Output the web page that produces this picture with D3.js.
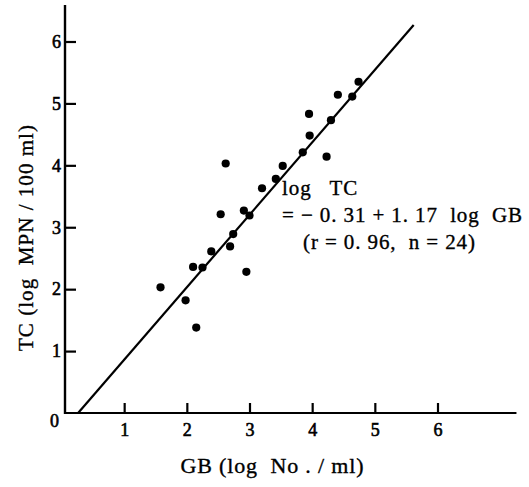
<!DOCTYPE html>
<html>
<head>
<meta charset="utf-8">
<script src="https://cdn.jsdelivr.net/npm/d3@7"></script>
<style>
  html, body { margin: 0; padding: 0; background: #fff; }
</style>
</head>
<body>
<div id="chart"></div>
<script>
// GB (log No./ml) and TC (log MPN/100 ml) for each sample
const gbValues = [1.58, 1.98, 2.15, 2.10, 2.25, 2.39, 2.69, 2.74, 2.54, 2.62, 2.91, 3.00,
                  2.95, 3.20, 3.42, 3.53, 3.85, 4.23, 3.96, 3.95, 4.30, 4.41, 4.64, 4.74];
const tcValues = [2.03, 1.82, 1.38, 2.36, 2.35, 2.61, 2.69, 2.89, 3.21, 4.03, 3.27, 3.19,
                  2.28, 3.63, 3.78, 3.99, 4.21, 4.14, 4.48, 4.83, 4.73, 5.14, 5.11, 5.35];
const xTicks = [1, 2, 3, 4, 5, 6];
const yTicks = [1, 2, 3, 4, 5, 6];
const intercept = -0.31, slope = 1.17;
const lineEndGB = 5.62;
const eqLines = ["log   TC", "= − 0. 31 + 1. 17  log  GB", "(r = 0. 96,  n = 24)"];

const width = 529, height = 487;
const serif = "'Liberation Serif'";

const svg = d3.select("#chart").append("svg")
    .attr("width", width)
    .attr("height", height);

const x = d3.scaleLinear().domain([0, 6]).range([61.5, 437.5]);
const y = d3.scaleLinear().domain([0, 6]).range([413, 41.5]);

const axisX = 65; // where the vertical axis was printed

function styleText(sel, size) {
  sel.style("font-family", serif)
     .style("font-size", size + "px")
     .style("fill", "#000")
     .style("stroke", "#000")
     .style("stroke-width", 0.35);
}

// y axis, ticks pointing into the plot
const gy = svg.append("g")
    .attr("transform", `translate(${axisX},0)`)
    .call(d3.axisLeft(y).tickValues(yTicks).tickSize(-11).tickPadding(4).tickFormat(d3.format("d")));
gy.select(".domain").remove();
gy.selectAll(".tick line").attr("stroke", "#000").attr("stroke-width", 2.2);
gy.selectAll(".tick text").call(styleText, 18).style("stroke-width", 0.6);

// x axis, ticks pointing up
const gx = svg.append("g")
    .attr("transform", `translate(0,${y(0)})`)
    .call(d3.axisBottom(x).tickValues(xTicks).tickSize(-10).tickPadding(10).tickFormat(d3.format("d")));
gx.select(".domain").remove();
gx.selectAll(".tick line").attr("stroke", "#000").attr("stroke-width", 2.2);
gx.selectAll(".tick text").call(styleText, 18).style("stroke-width", 0.6);

// axis lines
svg.append("line")
    .attr("x1", axisX).attr("x2", axisX)
    .attr("y1", y(6.59)).attr("y2", y(0) + 1)
    .attr("stroke", "#000").attr("stroke-width", 2.4);
svg.append("line")
    .attr("x1", axisX - 1).attr("x2", x(7.26))
    .attr("y1", y(0)).attr("y2", y(0))
    .attr("stroke", "#000").attr("stroke-width", 2.2);

// origin label
svg.append("text")
    .attr("x", axisX - 6).attr("y", y(0) + 8)
    .attr("dy", "0.32em")
    .attr("text-anchor", "end")
    .text("0")
    .call(styleText, 18)
    .style("stroke-width", 0.6);

// regression line
const x0 = -intercept / slope;
svg.append("line")
    .attr("x1", x(x0)).attr("y1", y(0))
    .attr("x2", x(lineEndGB)).attr("y2", y(intercept + slope * lineEndGB))
    .attr("stroke", "#000").attr("stroke-width", 2.2);

// points
svg.append("g").selectAll("circle")
  .data(gbValues.map((g, i) => ({ gb: g, tc: tcValues[i] })))
  .enter().append("circle")
    .attr("cx", d => x(d.gb))
    .attr("cy", d => y(d.tc))
    .attr("r", 4.1)
    .attr("fill", "#000");

// equation
svg.append("g").selectAll("text")
  .data(eqLines)
  .enter().append("text")
    .attr("x", (d, i) => i == 2 ? 303 : 282)
    .attr("y", (d, i) => 195 + i * 27)
    .attr("letter-spacing", 0.9)
    .style("white-space", "pre")
    .text(d => d)
    .call(styleText, 21);

// axis titles
svg.append("text")
    .attr("x", 272).attr("y", 473)
    .attr("text-anchor", "middle")
    .attr("textLength", 183)
    .style("white-space", "pre")
    .text("GB (log  No . / ml)")
    .call(styleText, 22);

svg.append("text")
    .attr("transform", "translate(33,238) rotate(-90)")
    .attr("text-anchor", "middle")
    .attr("textLength", 226)
    .style("white-space", "pre")
    .text("TC (log  MPN / 100 ml)")
    .call(styleText, 21);
</script>
</body>
</html>
